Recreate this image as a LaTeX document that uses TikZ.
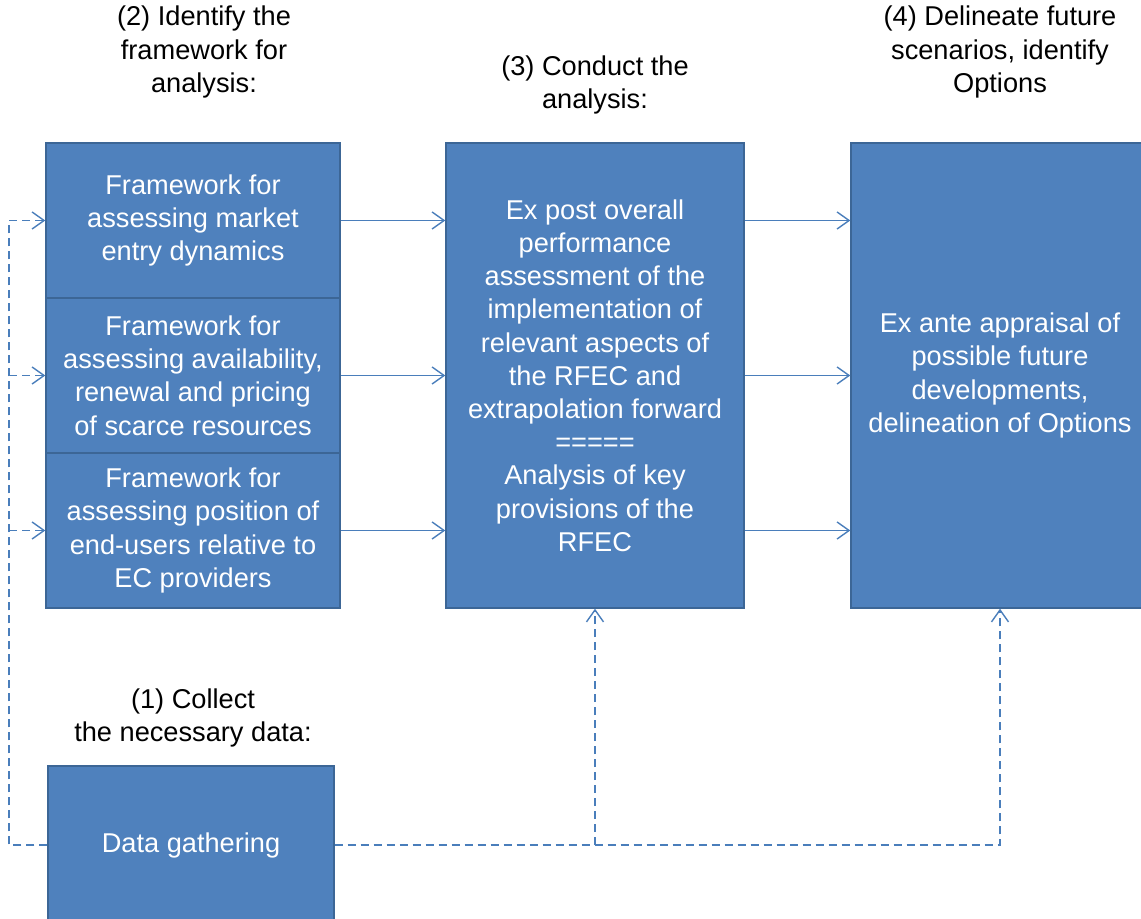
\documentclass[tikz,border=0pt]{standalone}
\usepackage{fontspec}
\setmainfont{Liberation Sans}
\usetikzlibrary{arrows.meta}
\definecolor{boxfill}{HTML}{4F81BD}
\definecolor{boxline}{HTML}{3C6696}
\definecolor{linkcol}{HTML}{4A7EBB}
\tikzset{every node/.style={font=\fontsize{13.6pt}{16.6pt}\selectfont, align=center}}

\begin{document}
\begin{tikzpicture}[
            x=0.5pt, y=-0.5pt,
            stage/.style={draw=boxline, line width=0.7pt, fill=boxfill, text=white, inner sep=0pt},
            frame/.style={stage, minimum width=147pt, minimum height=77.5pt},
            flow/.style={draw=linkcol, line width=0.7pt, -{Straight Barb[length=6pt,width=8.5pt]}},
            feed/.style={flow, dash pattern=on 4pt off 2.5pt}
            ]
            \useasboundingbox (0,0) rectangle (1141,919);
            \clip (0,0) rectangle (1141,919);
            % headings
            \node (hdr2) at (204,52) {(2) Identify the\\framework for\\analysis:};
            \node (hdr3) at (595,85) {(3) Conduct the\\analysis:};
            \node (hdr4) at (1000,52) {(4) Delineate future\\scenarios, identify\\Options};
            \node (hdr1) at (193,718) {(1) Collect\\the necessary data:};
            % boxes
            \node[frame] (fw1) at (193,220.5) {Framework for\\assessing market\\entry dynamics};
            \node[frame] (fw2) at (193,375.5) {Framework for\\assessing availability,\\renewal and pricing\\of scarce resources};
            \node[frame] (fw3) at (193,530.5) {Framework for\\assessing position of\\end-users relative to\\EC providers};
            \node[stage, minimum width=149pt, minimum height=232.5pt] (mid) at (595,375.5)
                {Ex post overall\\performance\\assessment of the\\implementation of\\relevant aspects of\\the RFEC and\\extrapolation forward\\=====\\Analysis of key\\provisions of the\\RFEC};
            \node[stage, minimum width=149pt, minimum height=232.5pt] (ante) at (1000,375.5)
                {Ex ante appraisal of\\possible future\\developments,\\delineation of Options};
            \node[stage, minimum width=143pt, minimum height=79pt] (data) at (191,845) {Data gathering};
            % solid links
            \foreach \f in {fw1,fw2,fw3} {
                \draw[flow] (\f.east) -- (mid.west |- \f.east);
                \draw[flow] (mid.east |- \f.east) -- (ante.west |- \f.east);
            }
            % dashed links from data gathering
            \coordinate (rail) at (9,0);
            \draw[feed] (data.west) -| (rail |- fw1.west) -- (fw1.west);
            \draw[feed] (rail |- fw2.west) -- (fw2.west);
            \draw[feed] (rail |- fw3.west) -- (fw3.west);
            \draw[feed] (data.east) -| (ante.south);
            \draw[feed] (mid.south |- data.east) -- (mid.south);
        \end{tikzpicture}
\end{document}
